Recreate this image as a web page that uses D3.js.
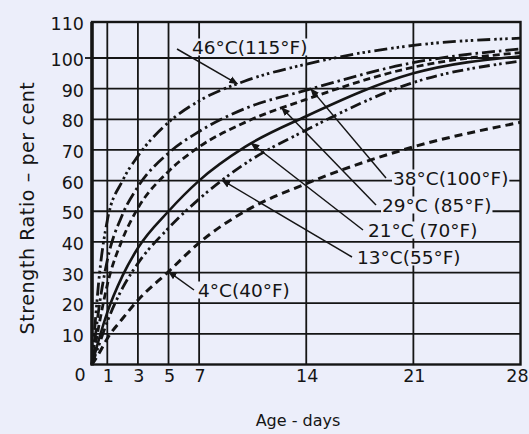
<!DOCTYPE html>
<html>
<head>
<meta charset="utf-8">
<script src="https://cdn.jsdelivr.net/npm/d3@7/dist/d3.min.js"></script>
<style>
  html, body { margin: 0; padding: 0; background: #eceefa; }
  svg { display: block; }
  text { font-family: "DejaVu Sans", sans-serif; fill: #151515; }
</style>
</head>
<body>
<svg id="chart" width="529" height="434"></svg>
<script>
// Age in days at which strength ratios were read
const days = [0, 0.5, 1, 2, 3, 5, 7, 10, 14, 21, 28];

// Strength ratio (per cent) for each curing temperature
const ratio46 = [0, 30, 47, 60, 68, 79, 86, 92.5, 98, 103.5, 105.5];
const ratio38 = [0, 20, 34, 49, 58, 69, 76, 83.5, 89.5, 98.5, 102.5];
const ratio29 = [0, 14, 26, 41, 51, 63, 71, 79, 86.5, 97, 101.5];
const ratio21 = [0, 9, 17, 29, 38, 50, 60, 71, 81, 95, 100.5];
const ratio13 = [0, 7, 14, 25, 33, 44.5, 54, 65.5, 76.5, 92, 99];
const ratio4  = [0, 4, 8.5, 15, 21, 30.3, 39.7, 50, 59, 71, 79];

const seriesNames = ["46°C(115°F)", "38°C(100°F)", "29°C (85°F)", "21°C (70°F)", "13°C(55°F)", "4°C(40°F)"];
const seriesValues = [ratio46, ratio38, ratio29, ratio21, ratio13, ratio4];
// day on each curve that its label points to
const calloutDays = [9.5, 14.3, 12.4, 10.4, 8.5, 5];

const xTicks = [1, 3, 5, 7, 14, 21, 28];
const yTicks = [10, 20, 30, 40, 50, 60, 70, 80, 90, 100, 110];

const svg = d3.select("#chart");
const bg = "#eceefa";
const ink = "#151515";

const x = d3.scaleLinear().domain([0, 28]).range([92, 520.5]);
const y = d3.scaleLinear().domain([0, 100, 110]).range([364.5, 58, 22]);

// grid
const grid = svg.append("g");
grid.selectAll("line.h").data(yTicks.filter(v => v < 110)).join("line")
  .attr("x1", x(0)).attr("x2", x(28))
  .attr("y1", d => y(d)).attr("y2", d => y(d))
  .attr("stroke", ink).attr("stroke-width", 1.8);
grid.selectAll("line.v").data(xTicks.filter(v => v < 28)).join("line")
  .attr("x1", d => x(d)).attr("x2", d => x(d))
  .attr("y1", y(0)).attr("y2", y(110))
  .attr("stroke", ink).attr("stroke-width", 1.8);

// small tick left of the frame at 100
svg.append("line").attr("x1", x(0) - 7).attr("x2", x(0)).attr("y1", y(100)).attr("y2", y(100))
  .attr("stroke", ink).attr("stroke-width", 1.8);

// curves
const styles = [
  { dash: "13,4,2.5,3,2.5,3,2.5,4", w: 2.8 },
  { dash: "13,4,2.5,4", w: 2.8 },
  { dash: "7,4", w: 2.8 },
  { dash: null, w: 2.6 },
  { dash: "11,4,2.5,3,2.5,4", w: 2.8 },
  { dash: "8,5", w: 3 }
];

const line = d3.line()
  .x((d, i) => x(days[i]))
  .y(d => y(d))
  .curve(d3.curveMonotoneX);

const paths = seriesValues.map((vals, k) =>
  svg.append("path")
    .attr("d", line(vals))
    .attr("fill", "none")
    .attr("stroke", ink)
    .attr("stroke-width", styles[k].w)
    .attr("stroke-linecap", "butt")
    .attr("stroke-dasharray", styles[k].dash)
    .node()
);

// y position on a drawn path at a given x pixel
function pointAtX(path, px) {
  const total = path.getTotalLength();
  let lo = 0, hi = total;
  for (let i = 0; i < 40; i++) {
    const mid = (lo + hi) / 2;
    if (path.getPointAtLength(mid).x < px) lo = mid; else hi = mid;
  }
  return path.getPointAtLength((lo + hi) / 2);
}

// frame
svg.append("rect")
  .attr("x", x(0)).attr("y", y(110))
  .attr("width", x(28) - x(0)).attr("height", y(0) - y(110))
  .attr("fill", "none").attr("stroke", ink).attr("stroke-width", 2.4);
svg.append("line").attr("x1", x(0)).attr("x2", x(0)).attr("y1", y(110)).attr("y2", y(0) + 1)
  .attr("stroke", ink).attr("stroke-width", 3.5);

// labels with leader arrows
const labelPos = [
  { tx: 192, ty: 47, lx: 177, ly: 49 },
  { tx: 393, ty: 178, lx: 386, ly: 178 },
  { tx: 382, ty: 205, lx: 376, ly: 205 },
  { tx: 368, ty: 230, lx: 363, ly: 230 },
  { tx: 357, ty: 257, lx: 352, ly: 257 },
  { tx: 198, ty: 290, lx: 194, ly: 290 }
];

svg.append("defs").append("marker")
  .attr("id", "head").attr("viewBox", "0 0 10 10")
  .attr("refX", 9).attr("refY", 5)
  .attr("markerWidth", 9).attr("markerHeight", 9)
  .attr("markerUnits", "userSpaceOnUse")
  .attr("orient", "auto")
  .append("path").attr("d", "M0,1 L10,5 L0,9 Z").attr("fill", ink);

seriesNames.forEach((name, k) => {
  const p = labelPos[k];
  const t = svg.append("text")
    .attr("x", p.tx).attr("y", p.ty)
    .attr("dominant-baseline", "central")
    .attr("font-size", 18.5)
    .text(name);
  const bb = t.node().getBBox();
  svg.insert("rect", () => t.node())
    .attr("x", bb.x - 1).attr("y", bb.y + 2)
    .attr("width", bb.width + 2).attr("height", bb.height - 4)
    .attr("fill", bg);
  const tip = pointAtX(paths[k], x(calloutDays[k]));
  svg.append("line")
    .attr("x1", p.lx).attr("y1", p.ly)
    .attr("x2", tip.x).attr("y2", tip.y)
    .attr("stroke", ink).attr("stroke-width", 1.5)
    .attr("marker-end", "url(#head)");
});

// tick labels
svg.selectAll("text.yt").data(yTicks).join("text")
  .attr("x", 84).attr("y", d => y(d) + 2)
  .attr("text-anchor", "end").attr("dominant-baseline", "central")
  .attr("font-size", 17.5)
  .text(d => d);
svg.append("text").attr("x", 80).attr("y", 375)
  .attr("text-anchor", "middle").attr("dominant-baseline", "central")
  .attr("font-size", 17.5).text("0");
svg.selectAll("text.xt").data(xTicks).join("text")
  .attr("x", d => d === 28 ? x(d) - 3 : x(d) + 1).attr("y", 376)
  .attr("text-anchor", "middle").attr("dominant-baseline", "central")
  .attr("font-size", 17.5)
  .text(d => d);

// axis titles
svg.append("text")
  .attr("transform", "translate(27,208) rotate(-90)")
  .attr("text-anchor", "middle").attr("dominant-baseline", "central")
  .attr("font-size", 19).attr("letter-spacing", 0.6)
  .text("Strength  Ratio – per cent");
svg.append("text")
  .attr("x", 298).attr("y", 420)
  .attr("text-anchor", "middle").attr("dominant-baseline", "central")
  .attr("font-size", 16)
  .text("Age - days");
</script>
</body>
</html>
